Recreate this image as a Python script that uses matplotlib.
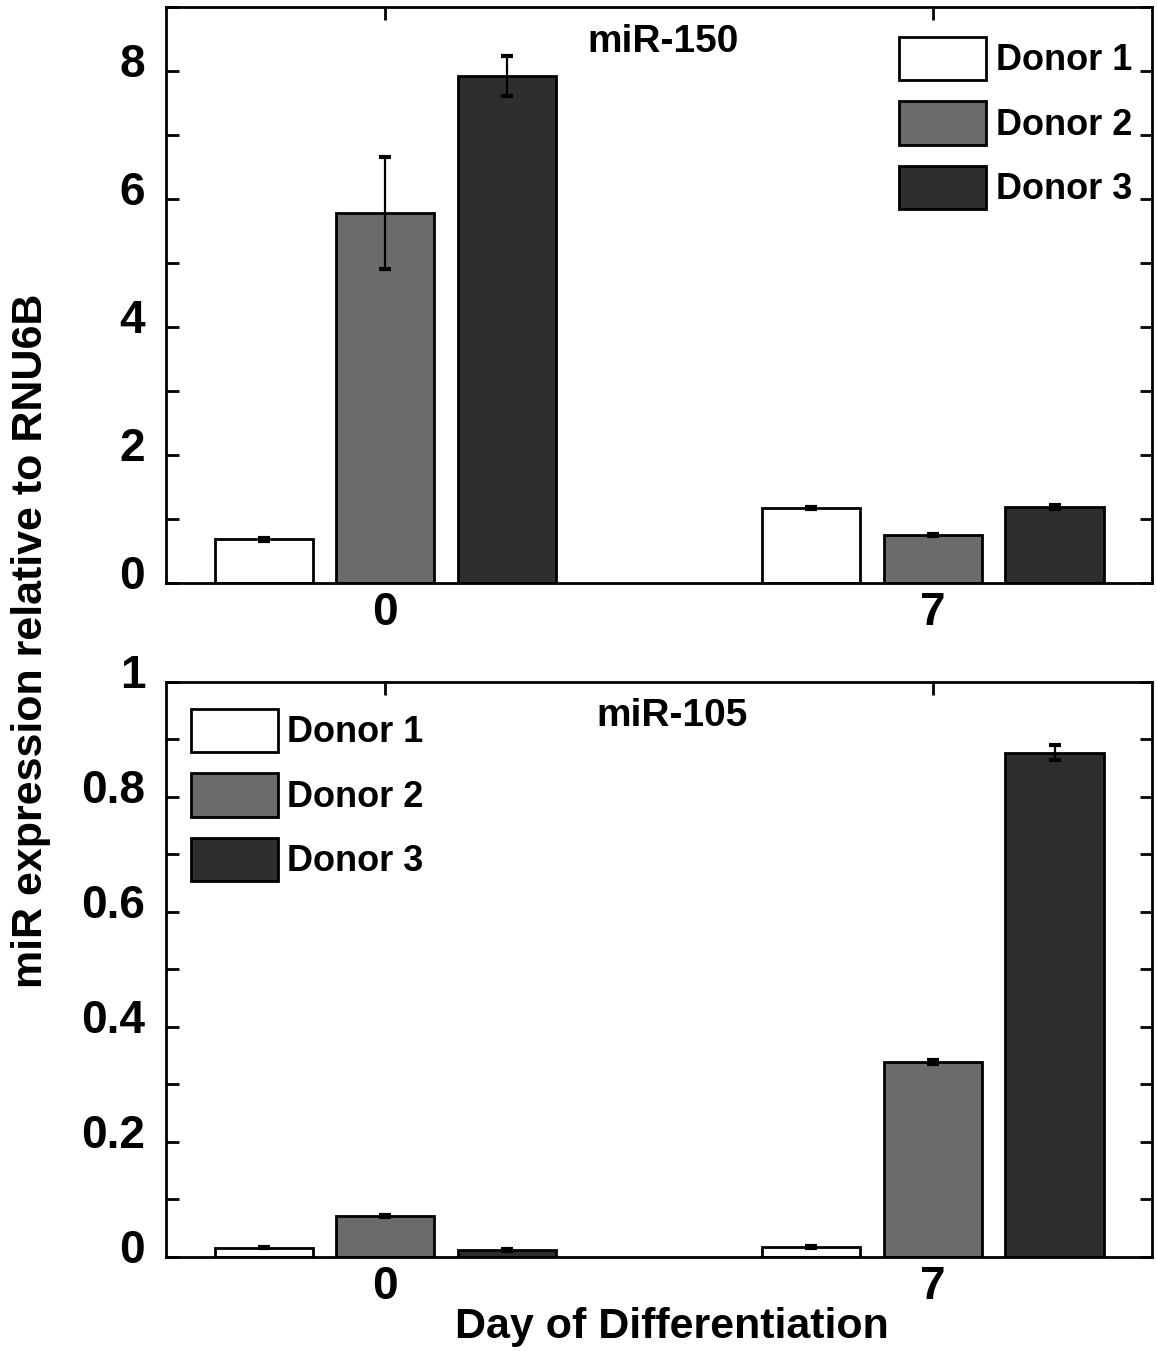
import numpy as np
import matplotlib
matplotlib.use('Agg')
import matplotlib.pyplot as plt
from matplotlib.transforms import ScaledTranslation

plt.rcParams['font.family'] = ['Liberation Sans', 'DejaVu Sans']
plt.rcParams['font.weight'] = 'bold'

# data
days = ['0', '7']
donors = ['Donor 1', 'Donor 2', 'Donor 3']
colors = ['#ffffff', '#6b6b6b', '#2e2e2e']

mir150 = [[0.68, 1.17], [5.78, 0.75], [7.92, 1.19]]
mir150_err = [[0.02, 0.02], [0.87, 0.02], [0.31, 0.03]]

mir105 = [[0.016, 0.017], [0.071, 0.339], [0.012, 0.877]]
mir105_err = [[0.001, 0.002], [0.002, 0.003], [0.002, 0.013]]

ticks150 = ['0', '2', '4', '6', '8']
ticks105 = ['0', '0.2', '0.4', '0.6', '0.8', '1']

x = np.arange(1, len(days) + 1)
offset = 0.222
width = 0.179

fig = plt.figure(figsize=(11.57, 13.51), dpi=100)
ax1 = fig.add_axes([0.1435, 0.5685, 0.8522, 0.4263])
ax2 = fig.add_axes([0.1435, 0.0696, 0.8522, 0.4256])


def draw_panel(ax, vals, errs, title, title_x, ymax, major, labels, minor_step, legend_loc, anchor):
    for i in range(3):
        ax.bar(x + (i - 1) * offset, vals[i], width, color=colors[i],
               edgecolor='black', linewidth=2, label=donors[i], zorder=2)
        ax.errorbar(x + (i - 1) * offset, vals[i], yerr=errs[i], fmt='none',
                    ecolor='black', elinewidth=1.6, capsize=4, capthick=3, zorder=3)
    ax.set_xlim(0.6, 2.4)
    ax.set_ylim(0, ymax)
    ax.set_xticks(x)
    ax.set_xticklabels(days, fontweight='bold')
    ax.set_yticks(major)
    ax.set_yticklabels(labels, fontweight='bold')
    ax.set_yticks(np.arange(0, ymax + 1e-9, minor_step), minor=True)
    ax.tick_params(axis='both', which='both', direction='in', top=True, right=True,
                   length=9, width=2, labelsize=33, pad=15)
    ax.tick_params(axis='x', pad=6)
    for s in ax.spines.values():
        s.set_linewidth(2)
    for lab in ax.get_yticklabels():
        lab.set_transform(lab.get_transform() + ScaledTranslation(0, 0.11, fig.dpi_scale_trans))
    ax.text(title_x, 0.94, title, transform=ax.transAxes, ha='center', va='center',
            fontsize=28, fontweight='bold')
    leg = ax.legend(loc=legend_loc, bbox_to_anchor=anchor, frameon=False,
                    fontsize=26, handlelength=2.4, handleheight=1.48,
                    labelspacing=0.58, handletextpad=0.27, borderpad=0)
    for t in leg.get_texts():
        t.set_fontweight('bold')
    for h in leg.legend_handles:
        h.set_linewidth(2)


draw_panel(ax1, mir150, mir150_err, 'miR-150', 0.504, 9, np.arange(0, 9, 2), ticks150, 1,
           'upper right', (0.998, 0.98))
draw_panel(ax2, mir105, mir105_err, 'miR-105', 0.513, 1, np.arange(0, 1.01, 0.2), ticks105, 0.1,
           'upper left', (0.007, 0.985))

fig.text(0.027, 0.526, 'miR expression relative to RNU6B', rotation=90,
         ha='center', va='center', fontsize=31, fontweight='bold')
fig.text(0.581, 0.018, 'Day of Differentiation', ha='center', va='center',
         fontsize=31, fontweight='bold')

fig.savefig('out.png', dpi=100)
